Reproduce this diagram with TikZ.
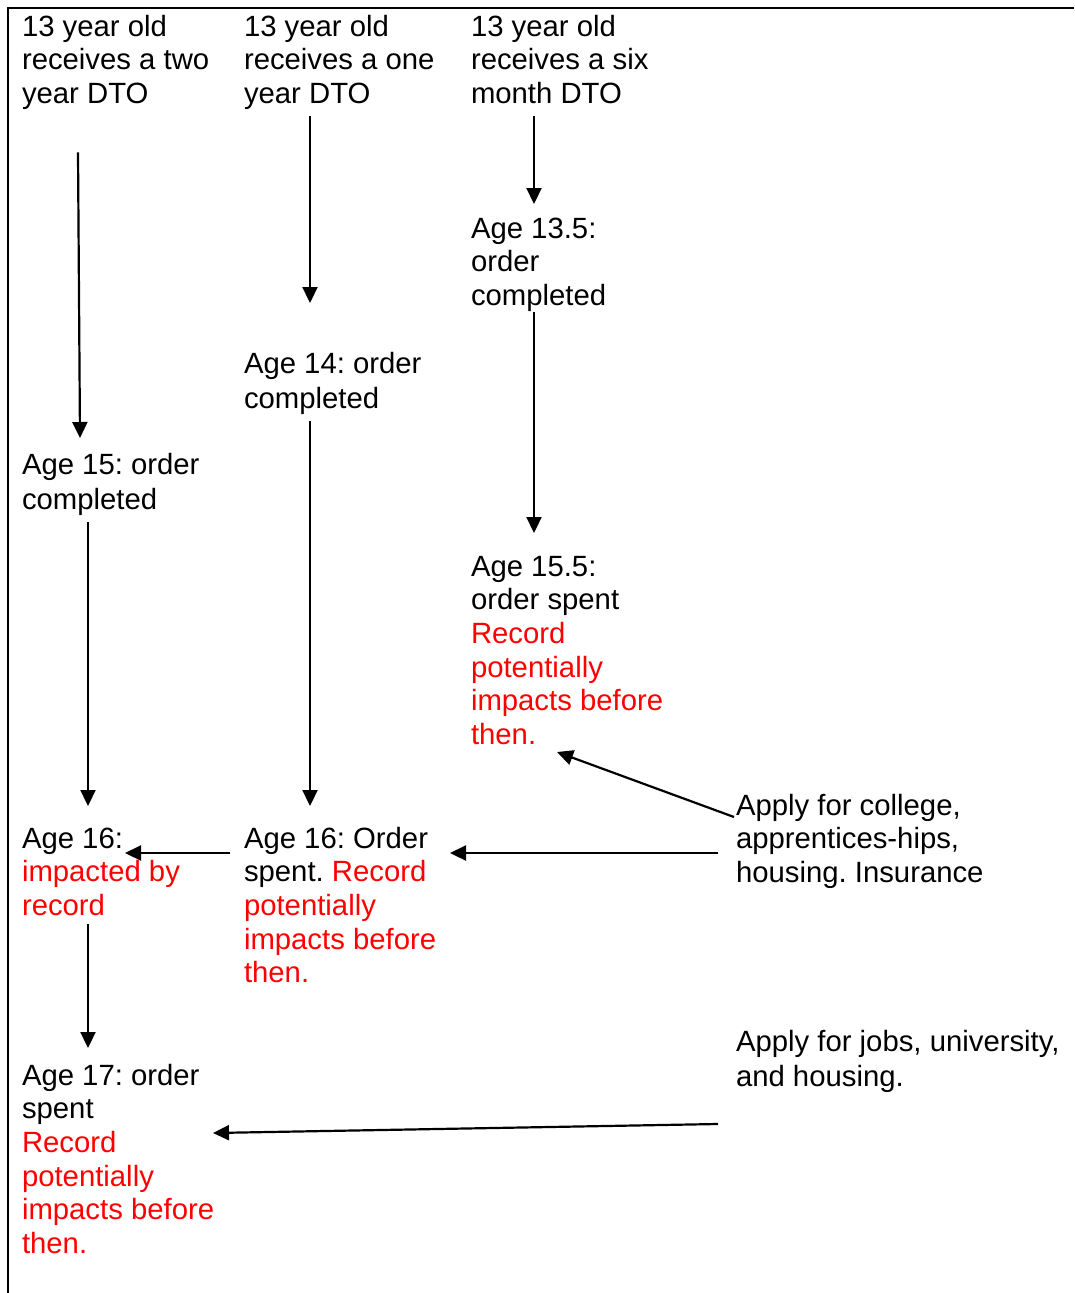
\documentclass[tikz,border=0pt]{standalone}
\usepackage{fontspec}
\setmainfont{Liberation Sans}
\usetikzlibrary{arrows.meta}
\frenchspacing
\newcommand\mystrut{\rule[-10pt]{0pt}{34pt}}
\newcommand\rr[1]{\textcolor{red}{#1}}
\begin{document}
\begin{tikzpicture}[x=1pt,y=-1pt,
  txt/.style={anchor=north west,inner sep=0pt,outer sep=0pt,align=left,
    font=\fontsize{29.3}{33.7}\selectfont\frenchspacing},
  arr/.style={line width=2.2pt,-{Triangle[length=16pt,width=15pt]}},
  frame/.style={line width=2pt}]
\path[use as bounding box] (0,0) rectangle (1074,1293);
\draw[frame] (1074,8) -- (8,8) -- (8,1293);

% column 1
\node[txt] (A1) at (22,12) {\mystrut 13 year old\\receives a two\\year DTO\mystrut};
\node[txt] (B1) at (22,450) {\mystrut Age 15: order\\completed\mystrut};
\node[txt] (D1) at (22,824) {\mystrut Age 16:\\\rr{impacted by}\\\rr{record}\mystrut};
\node[txt] (E1) at (22,1061) {\mystrut Age 17: order\\spent\\\rr{Record}\\\rr{potentially}\\\rr{impacts before}\\\rr{then.}\mystrut};

% column 2
\node[txt] (A2) at (244,12) {\mystrut 13 year old\\receives a one\\year DTO\mystrut};
\node[txt] (B2) at (244,349) {\mystrut Age 14: order\\completed\mystrut};
\node[txt] (D2) at (244,824) {\mystrut Age 16: Order\\spent. \rr{Record}\\\rr{potentially}\\\rr{impacts before}\\\rr{then.}\mystrut};

% column 3
\node[txt] (A3) at (471,12) {\mystrut 13 year old\\receives a six\\month DTO\mystrut};
\node[txt] (B3) at (471,214) {\mystrut Age 13.5:\\order\\completed\mystrut};
\node[txt] (C3) at (471,552) {\mystrut Age 15.5:\\order spent\\\rr{Record}\\\rr{potentially}\\\rr{impacts before}\\\rr{then.}\mystrut};

% column 4
\node[txt] (D4) at (736,791) {\mystrut Apply for college,\\apprentices-hips,\\housing. Insurance\mystrut};
\node[txt] (E4) at (736,1027) {\mystrut Apply for jobs, university,\\and housing.\mystrut};

% vertical connectors
\draw[arr] ([xshift=56pt,yshift=-39pt]A1.south west) -- ([xshift=58pt,yshift=12pt]B1.north west);
\draw[arr] ([xshift=66pt,yshift=-3pt]B1.south west) -- ([xshift=66pt,yshift=18pt]D1.north west);
\draw[arr] ([xshift=66pt,yshift=1pt]D1.south west) -- ([xshift=66pt,yshift=13pt]E1.north west);

\draw[arr] ([xshift=66pt,yshift=-3pt]A2.south west) -- ([xshift=66pt,yshift=46pt]B2.north west);
\draw[arr] ([xshift=66pt,yshift=-3pt]B2.south west) -- ([xshift=66pt,yshift=18pt]D2.north west);

\draw[arr] ([xshift=63pt,yshift=-3pt]A3.south west) -- ([xshift=63pt,yshift=10pt]B3.north west);
\draw[arr] ([xshift=63pt,yshift=3pt]B3.south west) -- ([xshift=63pt,yshift=19pt]C3.north west);

% horizontal / oblique connectors
\draw[arr] ([xshift=-14pt,yshift=-29pt]D2.north west) -- ([xshift=103pt,yshift=-29pt]D1.north west);
\draw[arr] ([xshift=-18pt,yshift=-62pt]D4.north west) -- ([xshift=206pt,yshift=-29pt]D2.north west);
\draw[arr] ([xshift=-2pt,yshift=-26pt]D4.north west) -- ([xshift=86pt,yshift=-200pt]C3.north west);
\draw[arr] ([xshift=-18pt,yshift=-97pt]E4.north west) -- ([xshift=191pt,yshift=-72pt]E1.north west);
\end{tikzpicture}
\end{document}
